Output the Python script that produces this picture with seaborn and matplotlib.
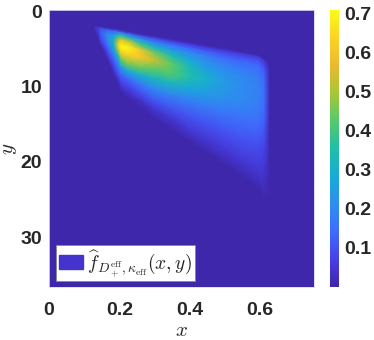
import numpy as np
import seaborn as sns
import matplotlib
matplotlib.use("Agg")
import matplotlib.pyplot as plt
from matplotlib.patches import Patch

plt.rcParams['mathtext.fontset'] = 'cm'
sns.set_theme(style="white")
plt.rcParams['font.family'] = ['Liberation Sans', 'DejaVu Sans']

# parula anchor colours
parula = ["#3E26A8", "#4740E8", "#3F6CFD", "#2D8EEF", "#17ABD6", "#1FBFA8", "#55C96B", "#A6C737", "#EBB92F", "#FBD424", "#F9FB15"]

x_columns = [0.130, 0.145, 0.165, 0.185, 0.197, 0.205, 0.225, 0.26, 0.30, 0.35, 0.40, 0.45, 0.50, 0.55, 0.595, 0.612, 0.624]
# per column: y station and density at the station (same number in each)
y_stations = [
 [1.9, 2.0, 2.1, 2.2, 2.3, 2.4, 2.5, 2.6, 2.7, 2.8, 2.9, 3.0],
 [2.0, 2.2, 2.5, 2.8, 3.1, 3.4, 3.7, 4.0, 4.2, 4.4, 4.6, 4.8],
 [2.2, 2.5, 2.9, 3.3, 3.7, 4.2, 4.7, 5.2, 5.6, 6.0, 6.4, 6.8],
 [2.3, 2.7, 3.2, 3.7, 4.2, 4.8, 5.5, 6.2, 7.0, 7.8, 8.4, 9.0],
 [2.4, 2.8, 3.2, 3.8, 4.5, 5.2, 6.0, 7.0, 8.0, 8.8, 9.5, 10.2],
 [2.5, 2.9, 3.3, 3.9, 4.7, 5.5, 6.5, 7.5, 8.5, 9.5, 10.3, 11.0],
 [2.7, 3.1, 3.5, 4.0, 4.8, 5.8, 7.0, 8.0, 9.0, 10.0, 11.0, 11.8],
 [3.0, 3.4, 3.8, 4.4, 5.2, 6.2, 7.5, 8.5, 9.8, 11.0, 12.0, 13.0],
 [3.3, 3.7, 4.2, 4.8, 5.6, 6.5, 7.7, 9.0, 10.5, 12.0, 13.2, 14.5],
 [3.7, 4.1, 4.6, 5.2, 6.0, 7.0, 8.3, 9.6, 11.2, 13.0, 14.5, 16.0],
 [4.1, 4.5, 5.0, 5.6, 6.4, 7.4, 8.7, 10.2, 12.0, 14.0, 15.8, 17.5],
 [4.5, 4.9, 5.4, 6.0, 6.8, 7.8, 9.0, 10.8, 12.8, 15.0, 17.0, 19.0],
 [4.9, 5.3, 5.8, 6.4, 7.2, 8.2, 9.5, 11.4, 13.6, 16.0, 18.4, 20.6],
 [5.4, 5.7, 6.2, 6.8, 7.6, 8.6, 10.0, 12.0, 14.4, 17.0, 19.8, 22.2],
 [5.8, 6.1, 6.6, 7.2, 8.0, 9.0, 10.5, 12.6, 15.2, 18.0, 21.0, 23.8],
 [6.3, 6.6, 7.1, 7.7, 8.5, 9.5, 11.0, 13.0, 15.6, 18.4, 21.6, 25.2],
 [6.6, 7.0, 7.5, 8.1, 9.0, 10.0, 11.5, 13.5, 16.0, 19.0, 22.2, 26.0],
]
density = [
 [0.0, 0.01, 0.01, 0.01, 0.01, 0.01, 0.01, 0.01, 0.01, 0.01, 0.01, 0.0],
 [0.0, 0.06, 0.09, 0.10, 0.09, 0.08, 0.06, 0.04, 0.03, 0.02, 0.01, 0.0],
 [0.0, 0.12, 0.18, 0.20, 0.19, 0.16, 0.13, 0.09, 0.06, 0.03, 0.01, 0.0],
 [0.0, 0.14, 0.25, 0.31, 0.32, 0.29, 0.22, 0.16, 0.10, 0.06, 0.02, 0.0],
 [0.0, 0.17, 0.34, 0.50, 0.62, 0.50, 0.33, 0.20, 0.12, 0.06, 0.02, 0.0],
 [0.0, 0.18, 0.38, 0.60, 0.71, 0.62, 0.44, 0.25, 0.13, 0.07, 0.03, 0.0],
 [0.0, 0.16, 0.34, 0.54, 0.70, 0.63, 0.46, 0.28, 0.14, 0.08, 0.03, 0.0],
 [0.0, 0.12, 0.25, 0.40, 0.60, 0.60, 0.44, 0.30, 0.16, 0.09, 0.03, 0.0],
 [0.0, 0.10, 0.20, 0.31, 0.46, 0.53, 0.43, 0.32, 0.19, 0.10, 0.04, 0.0],
 [0.0, 0.08, 0.17, 0.25, 0.35, 0.43, 0.42, 0.32, 0.19, 0.10, 0.04, 0.0],
 [0.0, 0.07, 0.14, 0.21, 0.27, 0.33, 0.35, 0.28, 0.18, 0.10, 0.05, 0.0],
 [0.0, 0.06, 0.12, 0.18, 0.22, 0.26, 0.30, 0.25, 0.17, 0.10, 0.05, 0.0],
 [0.0, 0.06, 0.11, 0.15, 0.19, 0.22, 0.24, 0.22, 0.16, 0.10, 0.05, 0.0],
 [0.0, 0.06, 0.10, 0.14, 0.17, 0.20, 0.21, 0.20, 0.15, 0.10, 0.05, 0.0],
 [0.0, 0.06, 0.10, 0.14, 0.16, 0.18, 0.19, 0.18, 0.14, 0.09, 0.05, 0.0],
 [0.0, 0.05, 0.08, 0.11, 0.13, 0.14, 0.15, 0.14, 0.11, 0.07, 0.04, 0.0],
 [0.0, 0.01, 0.02, 0.03, 0.03, 0.03, 0.03, 0.03, 0.02, 0.02, 0.01, 0.0],
]
x_ticks = [0, 0.2, 0.4, 0.6]
x_labels = ["0", "0.2", "0.4", "0.6"]
y_ticks = [0, 10, 20, 30]
cbar_ticks = [0.1, 0.2, 0.3, 0.4, 0.5, 0.6, 0.7]

cmap = sns.blend_palette(parula, n_colors=256, as_cmap=True)
W, H = 374, 340
fig = plt.figure(figsize=(W/100, H/100), dpi=100)
ax = fig.add_axes([49/W, 1-287/H, 265/W, 277/H])
cax = fig.add_axes([330/W, 1-287/H, 9/W, 277/H])

X = np.repeat(np.array(x_columns)[:, None], len(y_stations[0]), axis=1)
Y = np.array(y_stations)
Z = np.array(density)
ax.set_facecolor(cmap(0.005))
mesh = ax.pcolormesh(X, Y, Z, shading="gouraud", cmap=cmap, vmin=0, vmax=0.71)
ax.set_xlim(0, 0.753)
ax.set_ylim(36.6, -0.15)
ax.set_xticks(x_ticks, x_labels)
ax.set_yticks(y_ticks)
ax.tick_params(axis="x", length=0, labelsize=14, colors="#262626", pad=11)
ax.tick_params(axis="y", length=0, labelsize=14, colors="#262626", pad=5)
for t in ax.get_xticklabels() + ax.get_yticklabels():
    t.set_fontweight("bold")
for s in ax.spines.values():
    s.set_color("#DAD8F0")
    s.set_linewidth(0.6)
ax.set_xlabel(r"$x$", fontsize=15, labelpad=1, color="#262626")
ax.set_ylabel(r"$y$", fontsize=15, labelpad=1, color="#262626")

cb = fig.colorbar(mesh, cax=cax)
cb.set_ticks(cbar_ticks)
cb.ax.tick_params(length=0, labelsize=14, colors="#262626", pad=4)
for t in cb.ax.get_yticklabels():
    t.set_fontweight("bold")
cb.outline.set_visible(False)

leg = ax.legend(handles=[Patch(color="#4433CC")],
                labels=[r"$\widehat{f}_{D_+^{\mathrm{eff}},\kappa_{\mathrm{eff}}}(x,y)$"],
                loc="lower left", fontsize=14, frameon=True, fancybox=False, framealpha=1,
                edgecolor="#888888", borderaxespad=0, bbox_to_anchor=(0.027, 0.02),
                handlelength=1.25, handletextpad=0.2, borderpad=0.15)
leg.get_frame().set_linewidth(0.6)
fig.savefig("out.png", dpi=100)
